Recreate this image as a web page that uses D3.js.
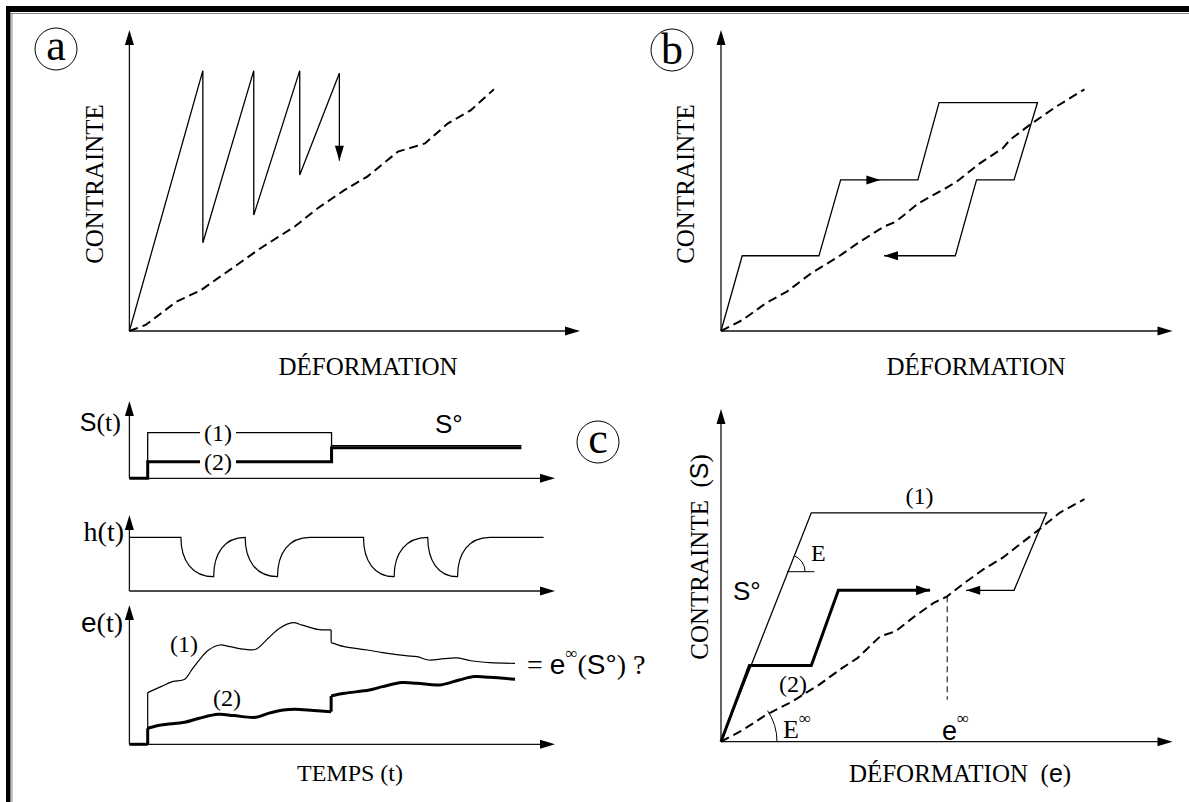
<!DOCTYPE html>
<html>
<meta charset="utf-8">
<script src="https://d3js.org/d3.v7.min.js"></script>
<style>
  body { margin: 0; background: #fff; }
  svg { display: block; }
</style>
<body>
<script>

var width = 1189, height = 802;
var serif = "'Liberation Serif','Times New Roman',serif";
var sans = "'Liberation Sans',Arial,sans-serif";

// all values in % of each axis (0 = origin, 100 = arrow tip)

// panel a : sawtooth loading + limit curve
var sawA = [[0,0],[16.3,86.5],[16.3,29.3],[27.6,86.5],[27.6,38.5],[37.8,86.5],[37.8,51.8],[46.6,85.6]];
var dropA = [[46.6,85.6],[46.6,56.6]];
var dashA = [[0,0],[3.6,2],[10.4,9.7],[15.9,13.6],[22.3,20.3],[29.1,27.5],[36.7,34.7],[41.8,40.8],
             [47.7,46.8],[52.8,51.3],[59.6,59.6],[65.6,62.3],[70.7,69],[75.8,73.4],[80.9,80.3]];

// panel b : staircase loop
var stairsB = [[0,0],[4.7,25],[21.7,25],[26.5,50.2],[43.6,50.2],[48.3,75.9],[70.1,75.9],
               [64.9,50.2],[56.6,50.2],[51.9,25],[36.1,25]];
var arrowB = [[31,50.2],[35.3,50.2]];
var dashB = [[0,0],[4.8,3.7],[9.9,9.2],[14.6,13.1],[20,19.2],[26,24.7],[30.2,29.1],[36.1,34.7],
             [38.7,36.3],[43.7,42.4],[49.7,47.4],[52.2,49.6],[57.3,55.7],[62.4,60.7],[64,63.5],
             [68.3,68.4],[74.2,74.5],[80.5,80.3]];

// panel c (right) : stress / strain
var path1C = [[0,0],[20,68.8],[72.1,68.8],[64.9,45.5],[54.3,45.5]];
var path2C = [[0,0],[6.3,22.9],[20,22.9],[26,45.5],[46.3,45.5]];
var dashC = [[0,0],[4.8,3.5],[9.9,8],[15.8,12.1],[21.7,17.1],[26.8,22.1],[30.2,25.1],[35.3,31.7],
             [38.7,33.2],[42.9,37.7],[47.1,41.7],[50.1,43.7],[53.9,47.7],[58.1,51.8],[62.4,55.3],
             [65.7,58.8],[70,63.3],[75,68.8],[80.5,72.9]];
var eInfC = [[50.1,43.7],[50.1,12.6]];
var tickE = [[14.6,51.1],[20.7,51.1]];

// panel c (left) : time histories
var s1 = [[4.3,21.5],[4.3,59],[47.5,59],[47.5,42.2],[92.1,42.2]];
var s2 = [[0,0],[4.3,0],[4.3,21.5],[47.5,21.5],[47.5,39.6],[92.1,39.6]];
var hTimes = [0, 12.1, 19.8, 27.2, 34.8, 42.4, 55.0, 62.2, 70.1, 77.1, 84.7, 97.3];
var hVals  = [70.6, 70.6, 18.8, 70.6, 18.8, 70.6, 70.6, 18.8, 70.6, 18.8, 70.6, 70.6];
var e1 = [[4.3,0],[4.3,37.1],[7.4,41.4],[10.1,45],[13,46.7],[14.6,53.3],[16.4,60.5],[18.6,67.7],
          [21.3,71.3],[23.6,70.1],[27.2,68.2],[29.7,68.2],[32.6,76.1],[35.3,83.3],[38.4,87.3],
          [40.6,85.6],[44.2,82.5],[47.4,82.1],[47.4,73],[50.5,70.1],[55.9,67.7],[59.5,65.8],
          [64.9,63.6],[67.6,62.9],[70.3,60.5],[73.9,61.5],[77.1,62],[80.2,60],[84.7,58.6],[90.6,58.1]];
var e2 = [[0,0],[4.3,0],[4.3,11.5],[7.4,13.9],[13,15.8],[16.4,18.7],[20.9,21.5],[24.5,20.6],
          [29.7,19.4],[32.6,22.2],[36.2,24.6],[38.9,25.1],[43.3,24.2],[47.4,23.4],[47.4,34.7],
          [50.5,36.6],[56.4,39],[59.5,41.4],[64,44.3],[67.6,43.8],[73,42.6],[77.5,46.2],
          [81.1,48.6],[84.7,48.1],[90.6,46.7]];

var svg = d3.select("body").append("svg")
  .attr("width", width)
  .attr("height", height);

svg.append("rect").attr("width", width).attr("height", height).attr("fill", "#fff");

// frame
svg.append("rect").attr("x", 6).attr("y", 6).attr("width", width - 6).attr("height", 6).attr("fill", "#000");
svg.append("rect").attr("x", 6).attr("y", 6).attr("width", 4.5).attr("height", height - 6).attr("fill", "#000");
svg.append("line").attr("x1", 11).attr("x2", width).attr("y1", 13.5).attr("y2", 13.5).attr("stroke", "#888");
svg.append("line").attr("x1", 12).attr("x2", 12).attr("y1", 13).attr("y2", height).attr("stroke", "#888");

function scales(x0, x1, y0, y1) {
  return {
    x: d3.scaleLinear().domain([0, 100]).range([x0, x1]),
    y: d3.scaleLinear().domain([0, 100]).range([y0, y1])
  };
}

function head(g, x, y, ang, len, hw) {
  len = len || 15; hw = hw || 4.5;
  var c = Math.cos(ang), s = Math.sin(ang);
  var bx = x - len * c, by = y - len * s;
  g.append("path")
    .attr("d", "M" + x + "," + y + "L" + (bx - hw * s) + "," + (by + hw * c) + "L" + (bx + hw * s) + "," + (by - hw * c) + "Z")
    .attr("fill", "#000");
}

function axes(g, sc) {
  var ox = sc.x(0), oy = sc.y(0);
  g.append("line").attr("x1", ox).attr("y1", oy).attr("x2", sc.x(100) - 8).attr("y2", oy)
    .attr("stroke", "#111").attr("stroke-width", 1.3);
  head(g, sc.x(100), oy, 0);
  g.append("line").attr("x1", ox).attr("y1", oy).attr("x2", ox).attr("y2", sc.y(100) + 8)
    .attr("stroke", "#111").attr("stroke-width", 1.3);
  head(g, ox, sc.y(100), -Math.PI / 2);
}

function draw(g, sc, data, w, dash, curve) {
  var line = d3.line().x(function(d) { return sc.x(d[0]); }).y(function(d) { return sc.y(d[1]); })
    .curve(curve || d3.curveLinear);
  return g.append("path").datum(data).attr("d", line)
    .attr("fill", "none").attr("stroke", "#000").attr("stroke-width", w)
    .attr("stroke-dasharray", dash || null)
    .attr("stroke-linejoin", "miter");
}

// smooth runs, straight vertical jumps
function drawSmooth(g, sc, data, w) {
  var run = [data[0]];
  for (var i = 1; i < data.length; i++) {
    if (data[i][0] === data[i - 1][0]) {
      if (run.length > 1) draw(g, sc, run, w, null, d3.curveCatmullRom.alpha(0.5));
      draw(g, sc, [data[i - 1], data[i]], w);
      run = [data[i]];
    } else run.push(data[i]);
  }
  if (run.length > 1) draw(g, sc, run, w, null, d3.curveCatmullRom.alpha(0.5));
}

function endArrow(g, sc, data, len, hw) {
  var a = data[data.length - 2], b = data[data.length - 1];
  var ang = Math.atan2(sc.y(b[1]) - sc.y(a[1]), sc.x(b[0]) - sc.x(a[0]));
  head(g, sc.x(b[0]), sc.y(b[1]), ang, len || 14, hw || 4.5);
}

function badge(cx, cy, letter, dy) {
  svg.append("circle").attr("cx", cx).attr("cy", cy).attr("r", 21)
    .attr("fill", "none").attr("stroke", "#000").attr("stroke-width", 1);
  svg.append("text").attr("x", cx).attr("y", cy + dy).attr("text-anchor", "middle")
    .style("font-family", serif).style("font-size", "44px").text(letter);
}

function vlabel(x, y, txt) {
  return svg.append("text").attr("transform", "translate(" + x + "," + y + ") rotate(-90)")
    .attr("text-anchor", "middle").style("font-family", serif).style("font-size", "25px").text(txt);
}

function hlabel(x, y, txt, size, fam, anchor) {
  return svg.append("text").attr("x", x).attr("y", y).attr("text-anchor", anchor || "middle")
    .style("font-family", fam || serif).style("font-size", (size || 25) + "px").text(txt);
}

// ---------- panel a
var ga = svg.append("g");
var sa = scales(129.4, 580, 331, 30);
axes(ga, sa);
draw(ga, sa, dashA, 2, "9,5");
draw(ga, sa, sawA, 1.3);
draw(ga, sa, dropA, 1.3);
endArrow(ga, sa, dropA, 15, 4.5);
badge(56, 49, "a", 11);
vlabel(103, 184, "CONTRAINTE");
hlabel(368, 375, "DÉFORMATION");

// ---------- panel b
var gb = svg.append("g");
var sb = scales(721, 1172.5, 331, 30);
axes(gb, sb);
draw(gb, sb, dashB, 2, "9,5");
draw(gb, sb, stairsB, 1.3);
endArrow(gb, sb, stairsB, 14, 4.5);
endArrow(gb, sb, arrowB, 14, 4.5);
badge(672, 50, "b", 14);
vlabel(693.5, 184, "CONTRAINTE");
hlabel(976, 375, "DÉFORMATION");

// ---------- panel c, right
var gc = svg.append("g");
var sc = scales(721, 1172.5, 741.7, 409);
axes(gc, sc);
draw(gc, sc, dashC, 2, "9,5");
draw(gc, sc, eInfC, 1, "6,4");
draw(gc, sc, path1C, 1.3);
endArrow(gc, sc, path1C, 14, 4.5);
draw(gc, sc, path2C, 3);
endArrow(gc, sc, path2C, 14, 5);
draw(gc, sc, tickE, 1);

// angle E on the elastic line, angle E-infinity at the origin
(function() {
  var p = path1C[1];
  var ang = Math.atan2(sc.y(0) - sc.y(p[1]), sc.x(p[0]) - sc.x(0));
  var yv = tickE[0][1];
  var cx = sc.x(yv / p[1] * p[0]), cy = sc.y(yv), r = 17;
  gc.append("path").attr("d", "M" + (cx + r) + "," + cy + "A" + r + "," + r + " 0 0 0 " +
      (cx + r * Math.cos(ang)) + "," + (cy - r * Math.sin(ang)))
    .attr("fill", "none").attr("stroke", "#000").attr("stroke-width", 1);
  var q = dashC[dashC.length - 1];
  var a2 = Math.atan2(sc.y(0) - sc.y(q[1]), sc.x(q[0]) - sc.x(0));
  var R = 56, ox = sc.x(0), oy = sc.y(0);
  gc.append("path").attr("d", "M" + (ox + R) + "," + oy + "A" + R + "," + R + " 0 0 0 " +
      (ox + R * Math.cos(a2)) + "," + (oy - R * Math.sin(a2)))
    .attr("fill", "none").attr("stroke", "#000").attr("stroke-width", 1);
})();

badge(598, 442, "c", 11);
var t1 = vlabel(708, 557, "");
t1.attr("xml:space", "preserve");
t1.append("tspan").text("CONTRAINTE  (");
t1.append("tspan").style("font-family", sans).text("S");
t1.append("tspan").text(")");
var t2 = hlabel(960, 782, "");
t2.attr("xml:space", "preserve");
t2.append("tspan").text("DÉFORMATION  (");
t2.append("tspan").style("font-family", sans).text("e");
t2.append("tspan").text(")");

hlabel(919.5, 504, "(1)", 24);
hlabel(793, 692, "(2)", 24);
hlabel(811, 561, "E", 24, serif, "start");
hlabel(733, 600, "S°", 26, sans, "start");
var einf = hlabel(783, 738, "E", 26, serif, "start");
einf.append("tspan").attr("dy", -14).style("font-size", "17px").text("∞");
var eps = hlabel(942, 740, "e", 27, sans, "start");
eps.append("tspan").attr("dy", -16).style("font-family", serif).style("font-size", "17px").text("∞");

// ---------- panel c, left (time histories)
var tx0 = 129.4, tx1 = 555;
var gs = svg.append("g");
var ss = scales(tx0, tx1, 478.3, 401);
axes(gs, ss);
draw(gs, ss, s1, 1.3);
draw(gs, ss, s2, 3);
[["(1)", 59], ["(2)", 21.5]].forEach(function(l) {
  gs.append("rect").attr("x", 200).attr("y", ss.y(l[1]) - 11).attr("width", 36).attr("height", 22).attr("fill", "#fff");
  gs.append("text").attr("x", 218).attr("y", ss.y(l[1]) + 8).attr("text-anchor", "middle")
    .style("font-family", serif).style("font-size", "24px").text(l[0]);
});
hlabel(435, 433, "S°", 26, sans, "start");
var st = hlabel(121, 431, "", 26, serif, "end");
st.append("tspan").style("font-family", sans).style("font-size", "25px").text("S");
st.append("tspan").text("(t)");

var gh = svg.append("g");
var sh = scales(tx0, tx1, 591, 515);
axes(gh, sh);
(function() {
  var p = d3.path();
  p.moveTo(sh.x(hTimes[0]), sh.y(hVals[0]));
  for (var i = 1; i < hTimes.length; i++) {
    var x0 = sh.x(hTimes[i - 1]), y0 = sh.y(hVals[i - 1]);
    var x1 = sh.x(hTimes[i]), y1 = sh.y(hVals[i]);
    if (hVals[i] === hVals[i - 1]) p.lineTo(x1, y1);
    else p.bezierCurveTo(x0, y0 + 0.6 * (y1 - y0), x0 + 0.35 * (x1 - x0), y1, x1, y1);
  }
  gh.append("path").attr("d", p.toString()).attr("fill", "none").attr("stroke", "#000").attr("stroke-width", 1.2);
})();
hlabel(124, 541, "h(t)", 28, serif, "end");

var ge = svg.append("g");
var se = scales(tx0, tx1, 744.3, 605);
axes(ge, se);
drawSmooth(ge, se, e1, 1.2);
drawSmooth(ge, se, e2, 3);
hlabel(184, 652, "(1)", 24);
hlabel(227, 706, "(2)", 24);
var et = hlabel(123, 632, "", 28, serif, "end");
et.append("tspan").style("font-family", sans).text("e");
et.append("tspan").text("(t)");
var eq = hlabel(527, 674, "", 28, serif, "start");
eq.append("tspan").text("= ");
eq.append("tspan").style("font-family", sans).text("e");
eq.append("tspan").attr("dy", -15).style("font-size", "17px").text("∞");
eq.append("tspan").attr("dy", 15).text("(");
eq.append("tspan").style("font-family", sans).text("S°");
eq.append("tspan").text(") ?");
hlabel(350, 781, "TEMPS (t)", 24);

</script>
</body>
</html>
